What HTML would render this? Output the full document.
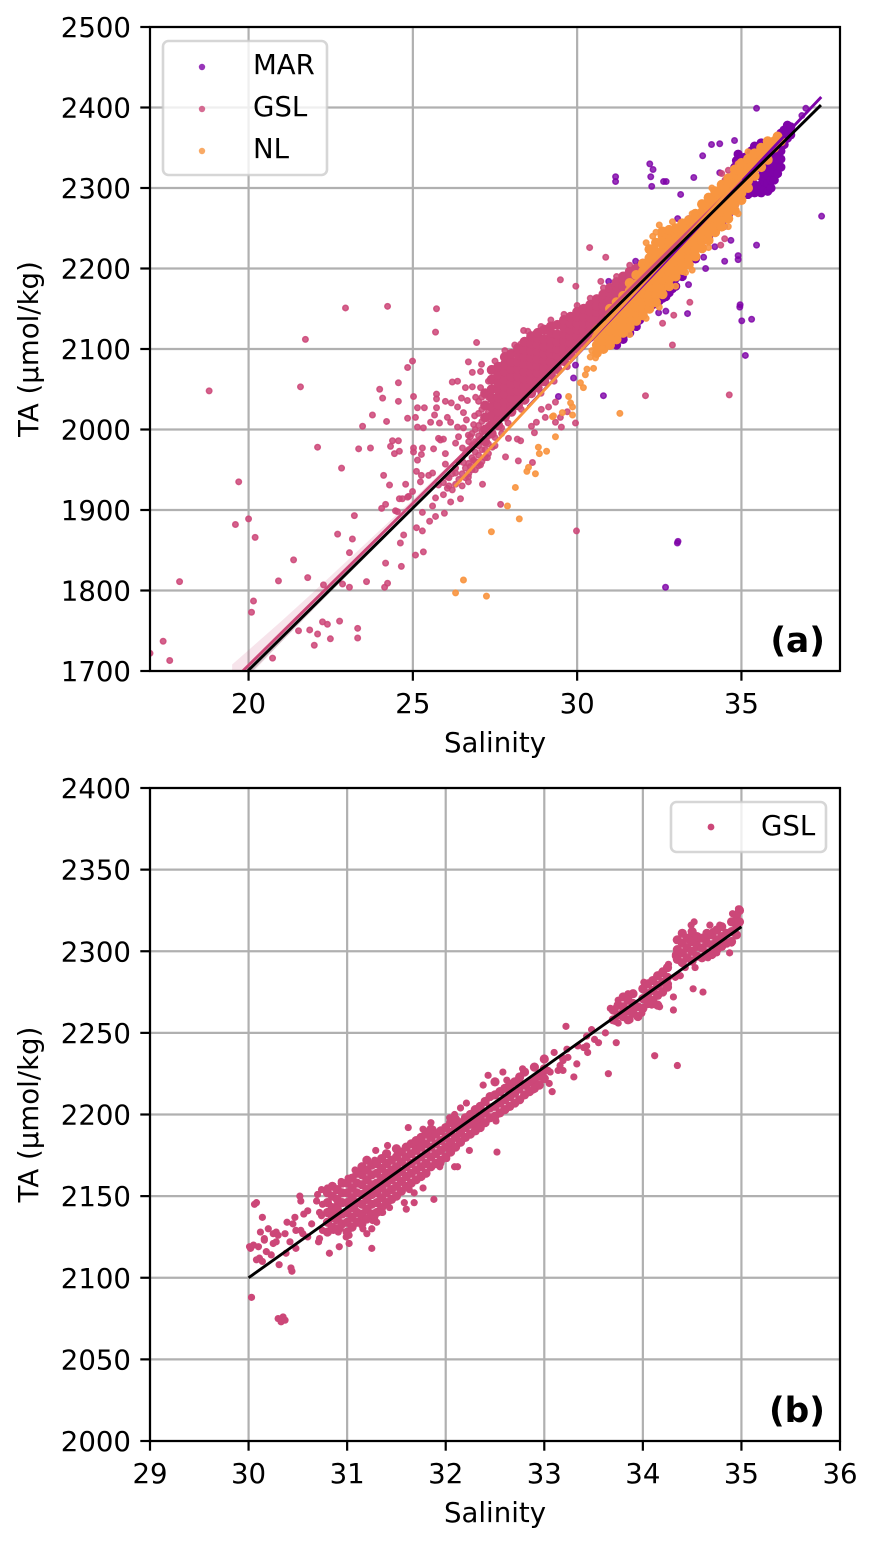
<!DOCTYPE html>
<html lang="en">
<head>
<meta charset="utf-8">
<title>TA vs Salinity</title>
<style>
html,body{margin:0;padding:0;background:#fff;}
svg{display:block;}
text{font-family:"DejaVu Sans","Liberation Sans",sans-serif;font-size:27.6px;fill:#000;}
</style>
</head>
<body>
<svg id="figure" xmlns="http://www.w3.org/2000/svg" width="874" height="1546" viewBox="0 0 874 1546">
<defs>
<clipPath id="clipA"><rect x="150" y="27" width="690" height="644"/></clipPath>
<clipPath id="clipB"><rect x="150" y="788" width="690" height="653"/></clipPath>
</defs>
<g id="panelA">
<g id="gridA"></g>
<g id="marksA" clip-path="url(#clipA)"></g>
<rect x="150" y="27" width="690" height="644" fill="none" stroke="#000" stroke-width="2.2"/>
<g id="ticksA"></g>
<text x="495" y="752" text-anchor="middle">Salinity</text>
<text transform="translate(38,349) rotate(-90)" text-anchor="middle">TA (µmol/kg)</text>
<text x="825" y="652" text-anchor="end" style="font-size:34.4px;font-weight:bold">(a)</text>
<g>
<rect x="163" y="41" width="164" height="134" rx="5.5" fill="#fff" fill-opacity="0.8" stroke="#ccc" stroke-opacity="0.8" stroke-width="2.6"/>
<circle cx="202" cy="67" r="3.2" fill="#7e03a8" fill-opacity="0.8"/>
<text x="253" y="74">MAR</text>
<circle cx="202" cy="109" r="3.2" fill="#cc4778" fill-opacity="0.8"/>
<text x="253" y="116">GSL</text>
<circle cx="202" cy="151" r="3.2" fill="#f89540" fill-opacity="0.8"/>
<text x="253" y="158">NL</text>
</g>
</g>
<g id="panelB">
<g id="gridB"></g>
<g id="marksB" clip-path="url(#clipB)"></g>
<rect x="150" y="788" width="690" height="653" fill="none" stroke="#000" stroke-width="2.2"/>
<g id="ticksB"></g>
<text x="495" y="1522" text-anchor="middle">Salinity</text>
<text transform="translate(38,1114.5) rotate(-90)" text-anchor="middle">TA (µmol/kg)</text>
<text x="825" y="1422" text-anchor="end" style="font-size:34.4px;font-weight:bold">(b)</text>
<g>
<rect x="671" y="802" width="155" height="50" rx="5.5" fill="#fff" fill-opacity="0.8" stroke="#ccc" stroke-opacity="0.8" stroke-width="2.6"/>
<circle cx="711" cy="827" r="3.4" fill="#cc4778"/>
<text x="761" y="835">GSL</text>
</g>
</g>
</svg>
<script>
const xTicksA = [20, 25, 30, 35];
const yTicksA = [1700, 1800, 1900, 2000, 2100, 2200, 2300, 2400, 2500];
const xTicksB = [29, 30, 31, 32, 33, 34, 35, 36];
const yTicksB = [2000, 2050, 2100, 2150, 2200, 2250, 2300, 2350, 2400];

const blackLineA = [[19.9, 1697], [37.42, 2403]];
const marLineA = [[28.5, 2028], [37.43, 2413]];
const gslLineA = [[19.5, 1687], [35, 2311]];
const nlLineA = [[26.27, 1929], [36, 2357]];
const blackLineB = [[30, 2100], [35, 2315]];

const gslCiX = [19.5, 20, 21, 22, 23, 24, 25, 26, 27];
const gslCiHigh = [1708, 1726, 1762, 1799, 1837, 1875, 1913, 1952, 1990];
const gslCiLow = [1671, 1693, 1736, 1778, 1821, 1863, 1904, 1947, 1988];
const blackCiX = [19.5, 20, 22, 24, 26];
const blackCiHigh = [1687, 1707, 1786, 1865, 1944];
const blackCiLow = [1675, 1695, 1778, 1859, 1942];

const marOutliers = [[35.46,2399],[36.96,2399],[36.84,2390],[34.09,2354],[34.34,2355],[34.79,2359],[33.82,2340],[32.21,2330],[32.31,2323],[32.24,2314],[31.17,2314],[31.17,2308],[32.27,2302],[32.63,2308],[32.71,2308],[33.55,2313],[33.15,2292],[34.34,2319],[33.06,2262],[33.39,2262],[37.44,2265],[35.46,2229],[34.68,2235],[34.19,2227],[33.85,2214],[34.49,2209],[34.9,2216],[34.9,2211],[33.91,2200],[31.78,2209],[32.06,2207],[30.96,2184],[33.39,2180],[32.7,2147],[32.48,2145],[33.36,2144],[34.95,2152],[34.96,2155],[35.01,2135],[35.31,2137],[31.45,2117],[35.12,2092],[33.05,1859],[33.07,1861],[32.69,1804],[30.8,2042],[29.95,2080],[29.89,2064],[29.43,2041]];
const marBulk = [[31.2,2105],[31.4,2112],[31.6,2120],[31.8,2128],[31.9,2136],[32,2142],[32.1,2150],[32.2,2152],[32.2,2160],[32.3,2155],[32.3,2164],[32.4,2158],[32.4,2168],[32.5,2160],[32.5,2170],[32.6,2163],[32.6,2173],[32.7,2165],[32.7,2175],[32.8,2170],[32.8,2180],[32.9,2175],[32.9,2184],[33,2178],[33,2188],[33.2,2190],[33.4,2205],[33.6,2212],[33.8,2226],[34,2238],[34.2,2246],[34.4,2256],[34.6,2266],[34.8,2280],[34.9,2286],[35,2293],[35,2302],[35.1,2296],[35.2,2292],[35.2,2302],[35.3,2296],[35.4,2294],[35.4,2304],[35.5,2298],[35.6,2294],[35.6,2304],[35.6,2314],[35.6,2324],[35.7,2298],[35.7,2308],[35.7,2318],[35.7,2328],[35.8,2296],[35.8,2306],[35.8,2316],[35.8,2326],[35.8,2336],[35.9,2300],[35.9,2310],[35.9,2320],[35.9,2330],[36,2310],[36,2320],[36,2330],[36,2340],[36.1,2318],[36.1,2328],[36.1,2336],[36.2,2326],[36.2,2336],[36.2,2346],[36,2352],[36.1,2356],[36.1,2364],[36.2,2358],[36.2,2368],[36.3,2354],[36.3,2362],[36.3,2372],[36.4,2362],[36.4,2372],[36.4,2378],[36.5,2366],[36.5,2376],[34.8,2326],[34.85,2334],[34.9,2342],[34.95,2328],[35,2336],[35.05,2330],[35.1,2338],[35.15,2330],[35.2,2326],[35.2,2340],[35.3,2346],[35.4,2352],[35.5,2350],[35.6,2356]];
const gslOutliers = [[17,1722],[17.4,1737],[17.6,1713],[17.9,1811],[18.8,2048],[19.6,1882],[19.7,1935],[20,1889],[20.2,1866],[20.15,1787],[20.09,1773],[20.91,1812],[21.37,1838],[21.8,1816],[22.28,1807],[22.71,1870],[23.16,1864],[22.83,1952],[23.07,1847],[22.86,1808],[23.07,1804],[23.59,1811],[24.17,1834],[24.65,1830],[24.62,1859],[24.72,1869],[24.23,1809],[24.14,1804],[21.52,1750],[21.86,1751],[22.1,1746],[22.25,1761],[22.4,1758],[22.77,1762],[22,1732],[22.49,1740],[23.32,1753],[23.32,1741],[20.73,1716],[23.22,1893],[24.11,1943],[24.29,1931],[24.78,1932],[24.17,1907],[24.05,1902],[24.47,1899],[24.59,1914],[25.11,1878],[25.29,1874],[25.08,1844],[25.32,1848],[25.26,1943],[25.23,1935],[24.99,1923],[24.87,1917],[25.14,1962],[22.95,2151],[24.23,2153],[25.72,2150],[25.69,2121],[21.73,2112],[26.94,2108],[28.37,2123],[28.28,2106],[26.69,2084],[27.09,2081],[24.99,2085],[24.84,2077],[21.58,2053],[23.99,2050],[24.56,2058],[24.08,2039],[24.56,2035],[25.02,2041],[23.77,2018],[24.2,2010],[23.47,2004],[24.84,2014],[22.1,1978],[23.35,1976],[23.71,1977],[25.14,2027],[25.35,2027],[25.72,2044],[25.72,2038],[25.72,2027],[25.66,2018],[25.54,2009],[25.08,2015],[25.14,2003],[25.32,2002],[25.81,2008],[25.99,2035],[26.17,2033],[26.05,2015],[26.36,2028],[26.48,2039],[26.66,2036],[26.54,2021],[26.63,2012],[26.88,2017],[26.2,2059],[26.36,2060],[26.6,2052],[26.81,2071],[27.06,2072],[26.81,2053],[27.06,2052],[26.91,2040],[26.15,2009],[26.36,2003],[26.54,2002],[26.85,2006],[24.38,1986],[24.56,1986],[24.32,1979],[24.44,1970],[24.59,1973],[25.02,1977],[25.29,1977],[25.26,1969],[25.02,1972],[25.63,1976],[25.78,1989],[25.93,1988],[25.84,1987],[25.99,1970],[26.3,1983],[26.39,1991],[26.51,1977],[26.69,1993],[26.75,1991],[25.11,1948],[25.48,1943],[25.6,1946],[25.99,1957],[26.05,1941],[26.3,1946],[25.78,1931],[25.93,1934],[26.05,1927],[26.54,1959],[26.75,1954],[26.85,1962],[26.69,1941],[26.97,1959],[24.68,1914],[24.53,1898],[24.84,1916],[25.29,1897],[25.6,1905],[25.69,1915],[25.93,1919],[26.15,1910],[26.45,1914],[25.69,1892],[25.51,1886],[25.96,1896],[27.12,1932],[27.67,1907],[27.82,1966],[28.21,1961],[28.64,1959],[28.28,1986],[28.7,1996],[28.61,2004],[28.76,2009],[29.13,2028],[28.91,2025],[29.03,2015],[29.34,2009],[29.49,2015],[29.52,2003],[29.95,2008],[29.34,2034],[29.7,2022],[29.98,1874],[28.18,1988],[27.91,1989],[27.42,1978],[27.27,1965],[27.06,1956],[26.69,1935],[30.38,2226],[30.87,2214],[29.49,2186],[30.72,2184],[29.96,2178],[30.9,2168],[34.49,2252],[34.49,2237],[34.37,2229],[33.43,2158],[32.94,2142],[32.6,2132],[32.58,2177],[32.08,2042],[34.63,2043],[32.9,2105],[34.4,2318],[34.5,2310],[34.6,2322],[34.7,2314],
[26.1,1930],[26.1,1940],[26.2,1925],[26.2,1945],[26.3,1932],[26.3,1952],[26.4,1938],[26.4,1960],[26.5,1930],[26.5,1945],[26.5,1965],[26.6,1940],[26.6,1952],[26.6,1970],[26.7,1945],[26.7,1958],[26.7,1975],[26.7,1985],[26.8,1950],[26.8,1965],[26.8,1980],[26.8,1995],[26.9,1950],[26.9,1960],[26.9,1972],[26.9,1985],[26.9,2000],[27,1955],[27,1968],[27,1980],[27,1992],[27,2005],[27,2020],[27,2035],[27.1,1960],[27.1,1975],[27.1,1988],[27.1,1998],[27.1,2010],[27.1,2025],[27.1,2040],[27.2,1965],[27.2,1975],[27.3,1970],[27.3,1982],[27.3,1992],[27.3,2005],[27.3,2022],[27.3,2040],[27.3,2060],[27.5,1980],[27.5,1990],[27.7,1995],[27.7,2002],
[27.5,2085],[27.8,2098],[28.1,2105],[28.5,2122],[28.9,2128],[29.2,2136],[29.6,2143],[30,2154],[30.4,2163],[30.8,2176],[31.2,2190],[31.6,2204],[28.9,2045],[29.3,2060],[29.7,2078],[28.3,2025],[27.9,2008]];
const gslBulk = [[27.2,1985],[27.2,2000],[27.2,2015],[27.2,2030],[27.2,2045],
[27.4,1995],[27.4,2006],[27.4,2017],[27.4,2028],[27.4,2039],[27.4,2050],[27.4,2062],[27.4,2074],
[27.6,2005],[27.6,2013],[27.6,2022],[27.6,2031],[27.6,2040],[27.6,2049],[27.6,2058],[27.6,2068],[27.6,2078],
[27.8,2016],[27.8,2025],[27.8,2034],[27.8,2044],[27.8,2053],[27.8,2062],[27.8,2072],[27.8,2081],[27.8,2090],
[28,2022],[28,2030],[28,2039],[28,2048],[28,2057],[28,2066],[28,2075],[28,2084],[28,2094],
[28.2,2030],[28.2,2039],[28.2,2048],[28.2,2057],[28.2,2066],[28.2,2075],[28.2,2084],[28.2,2093],[28.2,2101],
[28.4,2037],[28.4,2045],[28.4,2054],[28.4,2063],[28.4,2072],[28.4,2081],[28.4,2090],[28.4,2099],[28.4,2109],
[28.6,2045],[28.6,2053],[28.6,2062],[28.6,2071],[28.6,2080],[28.6,2089],[28.6,2098],[28.6,2107],[28.6,2116],
[28.8,2052],[28.8,2061],[28.8,2070],[28.8,2079],[28.8,2088],[28.8,2097],[28.8,2106],[28.8,2114],[28.8,2120],
[29,2060],[29,2068],[29,2077],[29,2086],[29,2094],[29,2103],[29,2112],[29,2124],
[29.2,2068],[29.2,2076],[29.2,2085],[29.2,2094],[29.2,2102],[29.2,2111],[29.2,2120],[29.2,2128],
[29.4,2075],[29.4,2083],[29.4,2092],[29.4,2100],[29.4,2109],[29.4,2118],[29.4,2130],
[29.6,2085],[29.6,2093],[29.6,2101],[29.6,2110],[29.6,2119],[29.6,2127],[29.6,2136],
[29.8,2092],[29.8,2100],[29.8,2108],[29.8,2116],[29.8,2124],[29.8,2132],[29.8,2140],
[30,2100],[30,2108],[30,2116],[30,2124],[30,2132],[30,2140],[30,2146],
[30.2,2108],[30.2,2116],[30.2,2124],[30.2,2132],[30.2,2140],[30.2,2150],
[30.4,2115],[30.4,2123],[30.4,2131],[30.4,2139],[30.4,2147],[30.4,2155],
[30.6,2122],[30.6,2130],[30.6,2138],[30.6,2146],[30.6,2154],[30.6,2162],
[30.8,2130],[30.8,2138],[30.8,2146],[30.8,2154],[30.8,2162],[30.8,2168],
[31,2138],[31,2146],[31,2154],[31,2162],[31,2170],[31,2176],
[31.2,2146],[31.2,2154],[31.2,2162],[31.2,2170],[31.2,2178],[31.2,2183],
[31.4,2154],[31.4,2162],[31.4,2170],[31.4,2178],[31.4,2186],[31.4,2190],
[31.6,2164],[31.6,2172],[31.6,2180],[31.6,2188],[31.6,2196],
[31.8,2172],[31.8,2180],[31.8,2188],[31.8,2196],[31.8,2200],
[32,2180],[32,2190],[32,2200],[32,2206],
[32.2,2190],[32.2,2200],[32.2,2210]];
const nlOutliers = [[30.25,2068],[30.56,2089],[30.5,2076],[30.1,2058],[30.19,2052],[29.74,2041],[29.8,2033],[29.86,2028],[29.28,2017],[29.25,2016],[29.55,2021],[29.86,2018],[29.34,1991],[28.82,1978],[28.85,1970],[29.07,1973],[28.52,1953],[28.47,1948],[28.73,1945],[28.12,1928],[27.88,1905],[28.24,1889],[27.39,1873],[26.54,1813],[26.3,1797],[27.24,1793],[31.3,2020],[30.4,2090],[30.3,2075],[30.45,2098],
[31.6,2118],[32.1,2138],[32.5,2152],[33,2178],[33.5,2198],[34,2226],[34.6,2252],[34.9,2268],[33.3,2195],[32.1,2232],[32.3,2240],[32.5,2254],[32.9,2258],[33.5,2268],[34.1,2300],[34.9,2330],[35.2,2345],[32.4,2245]];
const nlBulk = [[30.6,2095],[30.6,2105],[30.6,2115],[30.6,2125],
[30.8,2100],[30.8,2110],[30.8,2120],[30.8,2130],
[31,2105],[31,2114],[31,2123],[31,2132],[31,2141],[31,2150],
[31.2,2112],[31.2,2121],[31.2,2130],[31.2,2139],[31.2,2148],[31.2,2158],
[31.4,2120],[31.4,2129],[31.4,2138],[31.4,2147],[31.4,2156],[31.4,2166],
[31.6,2127],[31.6,2136],[31.6,2145],[31.6,2154],[31.6,2163],[31.6,2172],[31.6,2182],
[31.8,2135],[31.8,2144],[31.8,2153],[31.8,2162],[31.8,2171],[31.8,2180],[31.8,2192],
[32,2142],[32,2151],[32,2160],[32,2169],[32,2178],[32,2187],[32,2196],[32,2206],
[32.2,2150],[32.2,2159],[32.2,2168],[32.2,2177],[32.2,2186],[32.2,2195],[32.2,2204],[32.2,2213],[32.2,2224],
[32.4,2158],[32.4,2167],[32.4,2176],[32.4,2185],[32.4,2194],[32.4,2203],[32.4,2212],[32.4,2221],[32.4,2232],
[32.6,2168],[32.6,2177],[32.6,2186],[32.6,2195],[32.6,2204],[32.6,2213],[32.6,2222],[32.6,2231],[32.6,2240],[32.6,2246],
[32.8,2178],[32.8,2187],[32.8,2196],[32.8,2205],[32.8,2214],[32.8,2223],[32.8,2232],[32.8,2241],[32.8,2248],
[33,2190],[33,2199],[33,2208],[33,2217],[33,2226],[33,2235],[33,2244],[33,2250],
[33.2,2198],[33.2,2207],[33.2,2216],[33.2,2225],[33.2,2234],[33.2,2243],[33.2,2252],[33.2,2256],
[33.4,2205],[33.4,2214],[33.4,2223],[33.4,2232],[33.4,2241],[33.4,2250],[33.4,2260],
[33.6,2215],[33.6,2224],[33.6,2233],[33.6,2242],[33.6,2251],[33.6,2260],[33.6,2268],
[33.8,2225],[33.8,2234],[33.8,2243],[33.8,2252],[33.8,2261],[33.8,2270],[33.8,2280],
[34,2235],[34,2244],[34,2253],[34,2262],[34,2271],[34,2280],[34,2288],
[34.2,2245],[34.2,2254],[34.2,2263],[34.2,2272],[34.2,2281],[34.2,2290],[34.2,2296],
[34.4,2252],[34.4,2261],[34.4,2270],[34.4,2279],[34.4,2288],[34.4,2297],[34.4,2304],
[34.6,2262],[34.6,2271],[34.6,2280],[34.6,2289],[34.6,2298],[34.6,2307],[34.6,2312],
[34.8,2272],[34.8,2281],[34.8,2290],[34.8,2299],[34.8,2308],[34.8,2317],[34.8,2323],
[35,2285],[35,2294],[35,2303],[35,2312],[35,2321],[35,2331],
[35.2,2300],[35.2,2309],[35.2,2318],[35.2,2327],[35.2,2336],
[35.4,2315],[35.4,2324],[35.4,2333],[35.4,2343],
[35.6,2326],[35.6,2335],[35.6,2344],[35.6,2350],
[35.8,2335],[35.8,2344],[35.8,2353],[35.8,2358],
[36,2350],[36,2358],[36.1,2364],[36.2,2358]];

const gslScatterB = [[30.08,2146],[30.14,2137],[30.01,2119],[30.05,2120],[30.1,2119],[30.16,2124],[30.16,2123],[30.08,2111],[30.11,2112],[30.14,2110],[30.18,2116],[30.23,2114],[30.31,2108],[30.43,2106],[30.44,2104],[30.25,2127],[30.28,2128],[30.37,2127],[30.3,2126],[30.25,2121],[30.28,2122],[30.42,2122],[30.38,2115],[30.48,2118],[30.39,2134],[30.45,2133],[30.47,2137],[30.56,2139],[30.6,2141],[30.52,2150],[30.53,2147],[30.69,2147],[30.7,2151],[30.75,2145],[30.8,2155],[30.74,2154],[30.48,2129],[30.53,2129],[30.55,2127],[30.6,2125],[30.64,2133],[30.72,2140],[30.74,2138],[30.72,2124],[30.71,2122],[30.75,2129],[30.84,2131],[30.89,2135],[30.86,2129],[30.91,2128],[30.93,2130],[30.82,2115],[30.92,2119],[31.02,2126],[30.99,2125],[31.02,2121],[31.15,2132],[31.16,2130],[31.2,2127],[31.25,2130],[31.25,2118],[31.26,2135],[31.3,2134],[31.23,2140],[31.35,2140],[31.43,2143],[31.46,2148],[31.58,2146],[31.68,2146],[31.6,2142],[31.77,2155],[31.88,2148],[31.63,2154],[31.94,2168],[32.09,2168],[32.12,2168],[32.24,2178],[32.01,2173],[32.52,2177],[32.51,2196],[31.62,2192],[31.29,2178],[31.41,2181],[32.38,2218],[32.43,2224],[32.15,2204],[32.21,2207],[31.85,2195],[31.77,2191],[30.03,2088],[30.3,2075],[30.35,2076],[30.33,2073],[30.37,2074],[30.02,2118],[30.06,2145],[30.2,2130],[30.12,2128],[33.22,2254],[33.1,2238],[32.58,2226],[32.78,2228],[32.62,2221],[33.33,2231],[33.3,2223],[33.65,2225],[33.05,2219],[33.08,2214],[34.12,2236],[34.35,2230],[33.73,2244],[33.62,2250],[33.48,2252],[33.75,2270],[33.85,2274],[34.01,2281],[34.31,2272],[34.31,2264],[34.51,2277],[34.61,2275],[34.88,2299],[34.34,2307],[34.49,2316],[34.52,2318],[34.68,2316],[34.78,2316],[34.97,2326],[34.91,2323],[34.2,2288],[34.26,2292],[34.33,2298],[33.34,2242],[33.43,2242],[33.44,2238],[33.51,2246],[33.55,2244],[33.18,2235],[33.24,2235],[33.16,2230],[33.19,2227],[33.04,2227],[32.99,2225],[32.94,2223],[32.89,2215],[32.75,2215],[32.65,2216],
[30.94,2159],[31.01,2161],[31.08,2166],[31.14,2165],[31.28,2172],[31.41,2170],[31.51,2176],[31.68,2181],[31.77,2182],[31.87,2191],[32.04,2198],[32.09,2200],[30.89,2144],[30.87,2140],[31.08,2142],[31.14,2137],[31.28,2137],[31.36,2140],[31.68,2152],[31.95,2170],[32.04,2180],[32.16,2184],[32.29,2194],[32.36,2195],
[32.65,2219],[32.75,2221],[32.82,2217],[32.89,2221],[32.96,2223],[32.92,2219],[33.06,2226],[33.14,2227],[33.19,2233],[33.23,2240],[33.4,2241],[33.43,2248],[33.67,2265],[33.72,2265],[33.72,2257],[33.75,2256],[33.78,2262],[33.87,2258],[33.85,2263],[33.9,2265],[33.99,2262],[34.04,2272],[34.09,2267],[34.14,2274],[34.17,2266],[34.21,2276],[34.26,2280],[34.22,2282],[34.33,2284],[34.38,2285],[34.33,2297],[34.43,2290],[34.53,2290],[34.48,2306],[34.51,2309],[34.55,2305],[34.66,2309],[34.71,2312],[34.75,2299],[34.66,2296],[34.9,2305],[34.98,2317],[34.98,2326]];
const gslDenseB = [[30.8,2128],[30.8,2134],[30.8,2140],[30.8,2146],[30.8,2152],[30.85,2131],[30.85,2137],[30.85,2143],[30.85,2150],[30.85,2156],[30.9,2130],[30.9,2136],[30.9,2142],[30.9,2148],[30.9,2154],[30.95,2133],[30.95,2139],[30.95,2146],[30.95,2152],[30.95,2158],[31,2128],[31,2134],[31,2140],[31,2146],[31,2152],[31,2158],[31.05,2131],[31.05,2137],[31.05,2143],[31.05,2149],[31.05,2155],[31.05,2161],[31.1,2134],[31.1,2140],[31.1,2146],[31.1,2152],[31.1,2158],[31.1,2164],[31.15,2133],[31.15,2139],[31.15,2145],[31.15,2151],[31.15,2157],[31.15,2163],[31.15,2168],[31.2,2136],[31.2,2142],[31.2,2148],[31.2,2154],[31.2,2160],[31.2,2166],[31.2,2172],[31.25,2139],[31.25,2145],[31.25,2151],[31.25,2157],[31.25,2163],[31.25,2169],[31.3,2140],[31.3,2146],[31.3,2152],[31.3,2158],[31.3,2164],[31.3,2170],[31.35,2143],[31.35,2149],[31.35,2155],[31.35,2161],[31.35,2167],[31.35,2173],[31.4,2146],[31.4,2152],[31.4,2158],[31.4,2164],[31.4,2170],[31.4,2176],[31.45,2148],[31.45,2154],[31.45,2160],[31.45,2166],[31.45,2172],[31.5,2150],[31.5,2156],[31.5,2162],[31.5,2168],[31.5,2174],[31.5,2179],[31.55,2153],[31.55,2159],[31.55,2165],[31.55,2171],[31.55,2177],[31.6,2156],[31.6,2162],[31.6,2168],[31.6,2174],[31.6,2180],[31.65,2158],[31.65,2164],[31.65,2170],[31.65,2176],[31.65,2182],[31.7,2160],[31.7,2166],[31.7,2172],[31.7,2178],[31.7,2184],[31.75,2162],[31.75,2168],[31.75,2174],[31.75,2180],[31.75,2186],[31.8,2164],[31.8,2170],[31.8,2176],[31.8,2182],[31.8,2188],[31.85,2168],[31.85,2174],[31.85,2180],[31.85,2186],[31.85,2191],[31.9,2170],[31.9,2176],[31.9,2182],[31.9,2188],[31.95,2172],[31.95,2178],[31.95,2184],[31.95,2190],[32,2174],[32,2180],[32,2186],[32,2192],[32.05,2177],[32.05,2183],[32.05,2189],[32.05,2195],[32.1,2180],[32.1,2186],[32.1,2192],[32.1,2197],[32.15,2183],[32.15,2189],[32.15,2195],[32.2,2186],[32.2,2192],[32.2,2198],[32.25,2188],[32.25,2194],[32.25,2200],[32.3,2190],[32.3,2196],[32.3,2203],[32.35,2192],[32.35,2198],[32.35,2205],[32.4,2195],[32.4,2201],[32.4,2208],[32.45,2198],[32.45,2204],[32.45,2211],[32.5,2199],[32.5,2205],[32.5,2212],[32.5,2220],[32.55,2201],[32.55,2207],[32.55,2214],[32.6,2203],[32.6,2209],[32.6,2216],[32.65,2205],[32.65,2211],[32.65,2218],[32.7,2207],[32.7,2213],[32.7,2220],[32.75,2209],[32.75,2223],[32.8,2212],[32.8,2218],[32.8,2226],[32.85,2214],[32.85,2220],[32.9,2216],[32.9,2222],[32.9,2229],[32.95,2218],[32.95,2224],[33,2222],[33,2228],[33,2234],
[33.7,2258],[33.7,2264],[33.75,2261],[33.75,2267],[33.8,2260],[33.8,2266],[33.8,2272],[33.85,2258],[33.85,2264],[33.85,2270],[33.9,2262],[33.9,2268],[33.9,2274],[33.95,2260],[33.95,2266],[34,2265],[34,2271],[34,2277],[34.05,2268],[34.05,2274],[34.05,2280],[34.1,2270],[34.1,2276],[34.1,2282],[34.15,2267],[34.15,2273],[34.15,2279],[34.15,2285],[34.2,2275],[34.2,2281],[34.2,2287],[34.25,2278],[34.25,2284],[34.25,2290],[34.35,2295],[34.35,2301],[34.35,2307],[34.4,2293],[34.4,2299],[34.4,2305],[34.4,2311],[34.45,2296],[34.45,2302],[34.45,2308],[34.5,2294],[34.5,2300],[34.5,2306],[34.5,2312],[34.55,2297],[34.55,2303],[34.55,2309],[34.6,2296],[34.6,2302],[34.6,2308],[34.65,2299],[34.65,2305],[34.65,2311],[34.7,2298],[34.7,2304],[34.7,2310],[34.75,2301],[34.75,2307],[34.75,2313],[34.8,2303],[34.8,2309],[34.8,2315],[34.85,2305],[34.85,2311],[34.9,2306],[34.9,2312],[34.9,2318],[34.95,2310],[34.95,2316],[34.95,2322],[34.98,2318],[34.98,2325]];

const SVG_NS = 'http://www.w3.org/2000/svg';
const xA = v => 150 + (v - 17) * 690 / 21;
const yA = v => 671 - (v - 1700) * 644 / 800;
const xB = v => 150 + (v - 29) * 690 / 7;
const yB = v => 1441 - (v - 2000) * 653 / 400;

function make(parent, tag, attrs) {
  const el = document.createElementNS(SVG_NS, tag);
  for (const k in attrs) el.setAttribute(k, attrs[k]);
  parent.appendChild(el);
  return el;
}

function drawAxes(gridId, ticksId, xTicks, yTicks, xf, yf, top, bottom) {
  const grid = document.getElementById(gridId);
  const ticks = document.getElementById(ticksId);
  xTicks.forEach(function (t) {
    const g = make(grid, 'line', { x1: xf(t), x2: xf(t), y1: top, y2: bottom, stroke: '#b0b0b0', 'stroke-width': 2.2 });
    
    
    const m = make(ticks, 'line', { x1: xf(t), x2: xf(t), y1: bottom, y2: bottom + 9.7, stroke: '#000', 'stroke-width': 2.2 });
    
    
    const l = make(ticks, 'text', { x: xf(t), y: bottom + 42, 'text-anchor': 'middle' });
    l.textContent = t;
    
    
  });
  yTicks.forEach(function (t) {
    const g = make(grid, 'line', { x1: 150, x2: 840, y1: yf(t), y2: yf(t), stroke: '#b0b0b0', 'stroke-width': 2.2 });
    
    
    const m = make(ticks, 'line', { x1: 140.3, x2: 150, y1: yf(t), y2: yf(t), stroke: '#000', 'stroke-width': 2.2 });
    
    
    const l = make(ticks, 'text', { x: 131, y: yf(t) + 10, 'text-anchor': 'end' });
    l.textContent = t;
    
    
  });
}

function drawPoints(parentId, pts, color, xf, yf, alpha, r, sw) {
  const parent = document.getElementById(parentId);
  pts.forEach(function (p) {
    const c = make(parent, 'circle', { cx: xf(p[0]), cy: yf(p[1]), r: r, fill: color, 'fill-opacity': alpha, stroke: color, 'stroke-opacity': alpha, 'stroke-width': sw });
    
    
  });
}

function drawLine(parentId, pts, color, xf, yf) {
  const ln = make(document.getElementById(parentId), 'line', { x1: xf(pts[0][0]), y1: yf(pts[0][1]), x2: xf(pts[1][0]), y2: yf(pts[1][1]), stroke: color, 'stroke-width': 2.9 });
  
  
}

function drawBand(parentId, xs, hi, lo, color, alpha, xf, yf) {
  const upper = xs.map(function (x, i) { return xf(x) + ',' + yf(hi[i]); });
  const lower = xs.map(function (x, i) { return xf(x) + ',' + yf(lo[i]); }).reverse();
  const band = make(document.getElementById(parentId), 'polygon', { points: upper.concat(lower).join(' '), fill: color, 'fill-opacity': alpha });
  
  
}

drawAxes('gridA', 'ticksA', xTicksA, yTicksA, xA, yA, 27, 671);
drawAxes('gridB', 'ticksB', xTicksB, yTicksB, xB, yB, 788, 1441);

drawPoints('marksA', marOutliers, '#7e03a8', xA, yA, 0.8, 2.8, 1.4);
drawPoints('marksA', marBulk, '#7e03a8', xA, yA, 1, 4.6, 0);
drawPoints('marksA', gslOutliers, '#cc4778', xA, yA, 0.85, 2.8, 1.4);
drawPoints('marksA', gslBulk, '#cc4778', xA, yA, 1, 5, 0);
drawPoints('marksA', nlOutliers, '#f89540', xA, yA, 0.9, 2.8, 1.4);
drawPoints('marksA', nlBulk, '#f89540', xA, yA, 1, 5, 0);
drawBand('marksA', gslCiX, gslCiHigh, gslCiLow, '#cc4778', 0.15, xA, yA);
drawBand('marksA', blackCiX, blackCiHigh, blackCiLow, '#000', 0.15, xA, yA);
drawLine('marksA', marLineA, '#7e03a8', xA, yA);
drawLine('marksA', gslLineA, '#cc4778', xA, yA);
drawLine('marksA', nlLineA, '#f89540', xA, yA);
drawLine('marksA', blackLineA, '#000', xA, yA);

drawPoints('marksB', gslScatterB, '#cc4778', xB, yB, 1, 3.6, 0);
drawPoints('marksB', gslDenseB, '#cc4778', xB, yB, 1, 4.6, 0);
drawLine('marksB', blackLineB, '#000', xB, yB);
</script>
</body>
</html>
